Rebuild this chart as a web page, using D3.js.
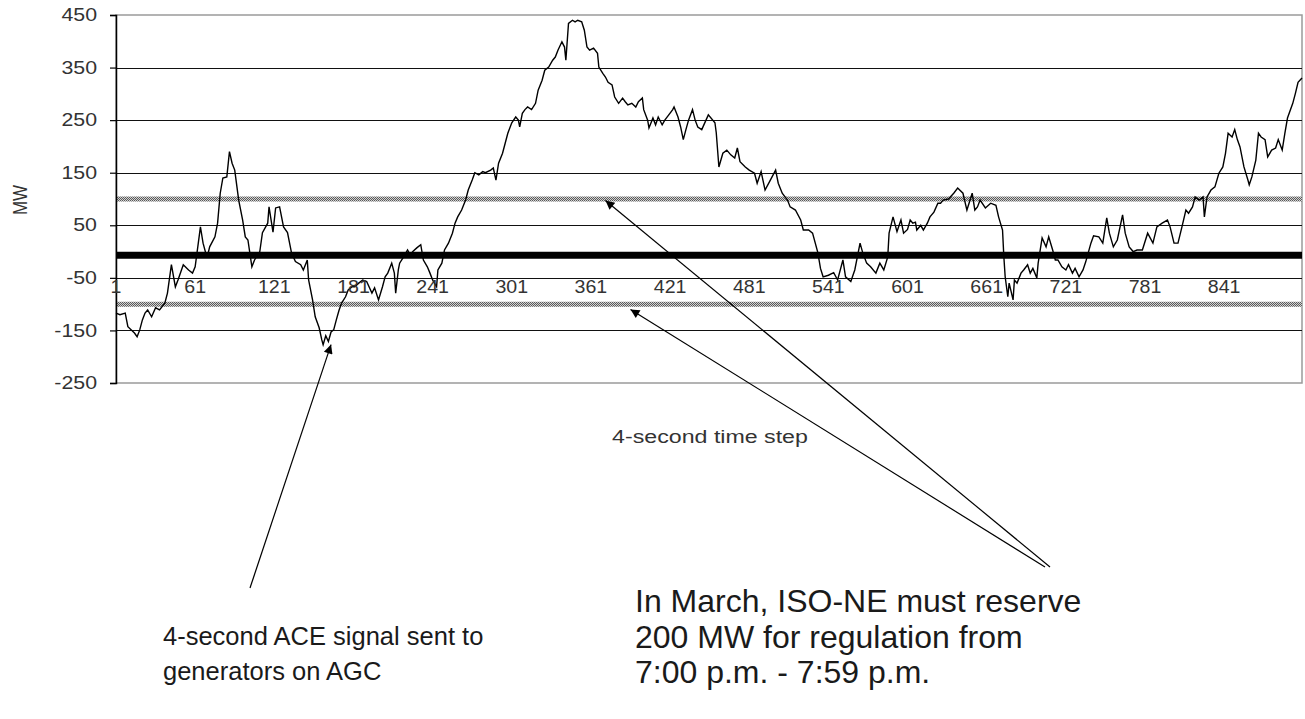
<!DOCTYPE html>
<html>
<head>
<meta charset="utf-8">
<script src="https://cdn.jsdelivr.net/npm/d3@7"></script>
<style>
  body { margin: 0; background: #fff; }
  svg { display: block; font-family: Arial, "Liberation Sans", sans-serif; }
</style>
</head>
<body>
<svg id="chart" width="1305" height="719"></svg>
<script>
// ACE signal: [4-second step, MW]
const aceSamples = [
  [1,-117],[4,-120],[8,-117],[10,-143],[15,-155],[17,-162],[19,-149],[21,-130],[23,-117],[25,-111],
  [28,-124],[31,-107],[34,-111],[38,-98],[40,-79],[43,-25],[46,-67],[48,-54],[52,-25],[56,-35],
  [59,-41],[61,-29],[65,47],[67,16],[70,-12],[72,9],[76,28],[78,54],[80,111],[82,140],
  [85,142],[87,190],[89,168],[91,155],[94,98],[97,60],[99,28],[101,22],[104,-29],[106,-16],
  [110,0],[112,36],[116,54],[117,85],[120,37],[122,83],[125,85],[128,47],[131,36],[134,-2],
  [137,-19],[141,-25],[143,-35],[146,-16],[147,-54],[150,-92],[152,-124],[155,-145],[157,-168],[158,-177],
  [160,-160],[162,-171],[164,-153],[166,-149],[168,-130],[170,-112],[172,-98],[175,-86],[177,-73],[180,-67],
  [182,-67],[185,-60],[188,-54],[191,-57],[195,-79],[197,-69],[200,-92],[203,-67],[205,-48],[207,-41],
  [210,-22],[212,-41],[213,-79],[215,-35],[216,-22],[219,-10],[222,3],[224,-6],[226,0],[229,7],
  [232,13],[234,-16],[237,-29],[239,-41],[241,-54],[244,-67],[245,-35],[248,-22],[250,3],[253,16],
  [256,35],[258,54],[260,66],[263,79],[266,98],[268,117],[271,136],[273,150],[276,146],[279,152],
  [281,150],[285,155],[287,159],[289,136],[291,168],[294,187],[296,206],[298,225],[301,245],[304,256],
  [306,250],[307,237],[309,263],[311,270],[313,275],[316,270],[319,282],[321,307],[324,326],[326,345],
  [329,351],[332,364],[334,370],[336,383],[339,399],[341,389],[342,364],[344,434],[347,440],[349,437],
  [351,440],[354,437],[356,421],[358,389],[360,383],[363,387],[366,377],[367,351],[370,339],[372,332],
  [374,322],[377,317],[379,294],[382,282],[385,292],[387,285],[389,279],[392,282],[395,275],[397,285],
  [400,292],[401,270],[404,250],[405,235],[408,254],[410,241],[412,256],[415,241],[417,250],[420,260],
  [423,270],[424,275],[427,256],[429,237],[431,213],[433,232],[435,250],[438,270],[440,250],[442,237],
  [445,232],[450,260],[455,245],[456,226],[458,161],[461,187],[464,193],[467,184],[470,178],[472,197],
  [474,171],[478,161],[481,155],[485,149],[487,130],[490,152],[493,117],[497,136],[501,155],[503,130],
  [506,111],[510,98],[512,85],[516,79],[520,60],[522,41],[526,41],[529,35],[533,-2],[535,-32],
  [537,-48],[541,-45],[545,-40],[548,-54],[552,-16],[554,-48],[558,-57],[561,-35],[565,16],[567,-2],
  [570,-22],[573,-29],[577,-41],[580,-22],[583,-35],[586,-10],[587,35],[590,66],[593,38],[596,60],
  [598,35],[601,42],[603,60],[605,54],[607,56],[608,41],[611,50],[613,41],[616,54],[618,66],
  [621,75],[624,92],[626,92],[628,98],[632,100],[636,111],[639,121],[643,111],[646,79],[650,111],
  [652,79],[654,85],[656,98],[660,83],[664,92],[668,88],[670,66],[673,41],[674,-10],[675,-48],
  [677,-86],[678,-60],[681,-92],[682,-54],[684,-60],[687,-41],[689,-35],[692,-25],[694,-41],[696,-32],
  [699,-50],[700,-22],[703,26],[706,9],[708,28],[711,3],[713,-16],[715,-16],[718,-29],[721,-35],
  [723,-25],[726,-41],[728,-32],[731,-48],[734,-35],[736,-20],[738,-2],[740,16],[742,30],[746,28],
  [749,16],[752,64],[754,35],[757,9],[760,22],[764,70],[766,35],[769,9],[772,0],[775,3],
  [779,3],[783,35],[787,16],[790,47],[794,54],[798,60],[800,47],[803,16],[806,16],[809,47],
  [812,79],[814,73],[817,85],[819,104],[822,98],[825,104],[826,66],[828,104],[831,117],[834,123],
  [837,149],[840,161],[842,187],[844,225],[847,218],[849,232],[851,213],[853,199],[856,161],[859,136],
  [860,127],[862,142],[865,174],[867,225],[869,218],[872,213],[874,180],[877,193],[880,197],[882,213],
  [885,193],[887,225],[889,254],[893,282],[895,301],[897,322],[900,330]
];

const yTicks = [450, 350, 250, 150, 50, -50, -150, -250];
const xTickSteps = [1, 61, 121, 181, 241, 301, 361, 421, 481, 541, 601, 661, 721, 781, 841];
const regLimits = [100, -100];   // 200 MW regulation band
const centreLine = -7;           // heavy line, sits just under zero in the picture
const axisCross = -50;           // category axis crosses here

const leftNote = ["4-second ACE signal sent to", "generators on AGC"];
const rightNote = ["In March, ISO-NE must reserve", "200 MW for regulation from", "7:00 p.m. - 7:59 p.m."];

const svg = d3.select("#chart");
const plotL = 116, plotT = 15, plotR = 1302, plotB = 383;

const x = d3.scaleLinear().domain([1, 900]).range([plotL, plotR]);
const y = d3.scaleLinear().domain([-250, 450]).range([plotB, plotT]);

const defs = svg.append("defs");
const pat = defs.append("pattern")
  .attr("id", "hatch").attr("patternUnits", "userSpaceOnUse")
  .attr("width", 2).attr("height", 2);
pat.append("rect").attr("width", 2).attr("height", 2).attr("fill", "#d2d2d2");
pat.append("rect").attr("width", 1).attr("height", 1).attr("fill", "#5a5a5a");
pat.append("rect").attr("x", 1).attr("y", 1).attr("width", 1).attr("height", 1).attr("fill", "#5a5a5a");

defs.append("marker")
  .attr("id", "arrow").attr("viewBox", "0 0 10 10")
  .attr("refX", 10).attr("refY", 5)
  .attr("markerWidth", 13).attr("markerHeight", 9)
  .attr("markerUnits", "userSpaceOnUse").attr("orient", "auto")
  .append("path").attr("d", "M0,0L10,5L0,10z").attr("fill", "#000");

// plot border
svg.append("rect")
  .attr("x", plotL).attr("y", plotT)
  .attr("width", plotR - plotL).attr("height", plotB - plotT)
  .attr("fill", "none").attr("stroke", "#9a9a9a").attr("stroke-width", 1.5);

// gridlines
svg.append("g").selectAll("line")
  .data(yTicks.filter(d => d !== 450 && d !== -250))
  .join("line")
  .attr("x1", plotL).attr("x2", plotR)
  .attr("y1", d => Math.round(y(d)) + 0.5).attr("y2", d => Math.round(y(d)) + 0.5)
  .attr("stroke", "#111").attr("stroke-width", 1.2);

// regulation limits
svg.append("g").selectAll("line")
  .data(regLimits)
  .join("line")
  .attr("x1", plotL).attr("x2", plotR)
  .attr("y1", d => y(d)).attr("y2", d => y(d))
  .attr("stroke", "url(#hatch)").attr("stroke-width", 5);

// heavy centre line
svg.append("line")
  .attr("x1", plotL).attr("x2", plotR)
  .attr("y1", y(centreLine)).attr("y2", y(centreLine))
  .attr("stroke", "#000").attr("stroke-width", 7);

// ACE line
const line = d3.line().x(d => x(d[0])).y(d => y(d[1]));
svg.append("path")
  .datum(aceSamples)
  .attr("d", line)
  .attr("fill", "none").attr("stroke", "#000").attr("stroke-width", 1.4)
  .attr("stroke-linejoin", "miter");

// y axis
const yAxis = svg.append("g")
  .attr("transform", `translate(${plotL},0)`)
  .call(d3.axisLeft(y).tickValues(yTicks).tickSize(6).tickFormat(""));
yAxis.select(".domain").attr("stroke", "#000").attr("stroke-width", 1.5);
yAxis.selectAll(".tick line").attr("stroke", "#000").attr("stroke-width", 1.2);

svg.append("g").selectAll("text")
  .data(yTicks)
  .join("text")
  .attr("transform", d => `translate(97,${y(d)}) scale(1.22,1)`)
  .attr("dy", "0.35em")
  .attr("text-anchor", "end")
  .attr("font-size", 17.5)
  .attr("fill", "#333")
  .text(d => d);

// category labels
svg.append("g").selectAll("text")
  .data(xTickSteps)
  .join("text")
  .attr("transform", d => `translate(${x(d)},${y(axisCross) + 3}) scale(1.12,1)`)
  .attr("dy", "0.71em")
  .attr("text-anchor", "middle")
  .attr("font-size", 17.5)
  .attr("fill", "#333")
  .text(d => d);

// axis titles
svg.append("text")
  .attr("transform", "translate(27,200) scale(1.2,1) rotate(-90)")
  .attr("text-anchor", "middle")
  .attr("font-size", 17)
  .attr("fill", "#333")
  .text("MW");

svg.append("text")
  .attr("transform", "translate(710,443) scale(1.22,1)")
  .attr("text-anchor", "middle")
  .attr("font-size", 19)
  .attr("fill", "#333")
  .text("4-second time step");

// notes
svg.append("text")
  .attr("x", 163).attr("y", 645)
  .attr("font-size", 25.5).attr("fill", "#1a1a1a")
  .selectAll("tspan").data(leftNote).join("tspan")
  .attr("x", 163).attr("dy", (d, i) => i ? 35 : 0)
  .text(d => d);

svg.append("text")
  .attr("x", 635).attr("y", 612)
  .attr("font-size", 32).attr("fill", "#1a1a1a")
  .selectAll("tspan").data(rightNote).join("tspan")
  .attr("x", 635).attr("dy", (d, i) => i ? 35.5 : 0)
  .text(d => d);

// arrows, tips given in chart units
const arrows = [
  { from: [250, 588], tip: [164, -177] },
  { from: [1050, 567], tip: [372, 97] },
  { from: [1045, 567], tip: [391, -110] }
];
svg.append("g").selectAll("line")
  .data(arrows)
  .join("line")
  .attr("x1", d => d.from[0]).attr("y1", d => d.from[1])
  .attr("x2", d => x(d.tip[0])).attr("y2", d => y(d.tip[1]))
  .attr("stroke", "#000").attr("stroke-width", 1.2)
  .attr("marker-end", "url(#arrow)");
</script>
</body>
</html>
